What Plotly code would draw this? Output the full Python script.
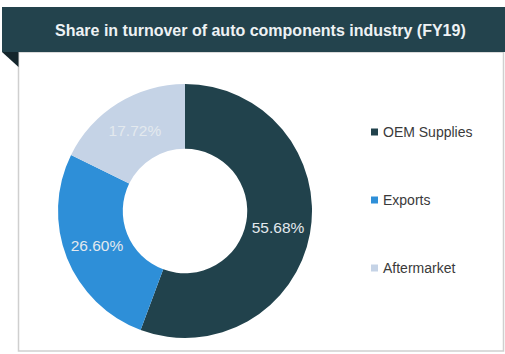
import plotly.graph_objects as go

W, H = 505, 354
labels = ["OEM Supplies", "Exports", "Aftermarket"]
values = [55.68, 26.60, 17.72]
colors = ["#21424c", "#2e8fd8", "#c5d3e6"]
title = "Share in turnover of auto components industry (FY19)"

def px(x):
    return x / W

def py(y):
    return 1 - y / H

fig = go.Figure()
fig.add_trace(go.Pie(
    labels=labels, values=values, sort=False, direction="clockwise", rotation=0,
    hole=0.49, marker=dict(colors=colors, line=dict(width=0)),
    texttemplate="%{value:.2f}%", textposition="inside", insidetextorientation="horizontal",
    textfont=dict(family="Liberation Sans, Arial", size=15.5, color="#e3e9ee"),
    domain=dict(x=[px(58), px(312)], y=[py(338), py(84)]),
    showlegend=False, hoverinfo="label+percent",
))

shapes = [
    # content box
    dict(type="rect", xref="paper", yref="paper", x0=px(18.5), x1=px(503.5), y0=py(351), y1=py(52),
         line=dict(color="#cfcfcf", width=1.5), fillcolor="rgba(0,0,0,0)", layer="below"),
    # header band
    dict(type="rect", xref="paper", yref="paper", x0=px(2), x1=px(505), y0=py(52), y1=py(7),
         line=dict(width=0), fillcolor="#23434d"),
    # folded triangle
    dict(type="path", xref="paper", yref="paper",
         path=f"M {px(2)} {py(52)} L {px(18.5)} {py(52)} L {px(18.5)} {py(67)} Z",
         line=dict(width=0), fillcolor="#14262c"),
]

annotations = [dict(text=f"<b>{title}</b>", xref="paper", yref="paper", x=px(260), y=py(30),
                    xanchor="center", yanchor="middle", showarrow=False,
                    font=dict(family="Liberation Sans, Arial", size=16, color="#eef2f4"))]

legend_y = [132, 200, 268]
for lab, col, ly in zip(labels, colors, legend_y):
    shapes.append(dict(type="rect", xref="paper", yref="paper", x0=px(371), x1=px(378),
                       y0=py(ly + 3.5), y1=py(ly - 3.5), line=dict(width=0), fillcolor=col))
    annotations.append(dict(text=lab, xref="paper", yref="paper", x=px(381), y=py(ly),
                            xanchor="left", yanchor="middle", showarrow=False,
                            font=dict(family="Liberation Sans, Arial", size=14, color="#3a3a3a")))

fig.update_layout(
    width=W, height=H, margin=dict(l=0, r=0, t=0, b=0),
    paper_bgcolor="white", plot_bgcolor="white",
    shapes=shapes, annotations=annotations,
)
fig.write_html("out.html")
